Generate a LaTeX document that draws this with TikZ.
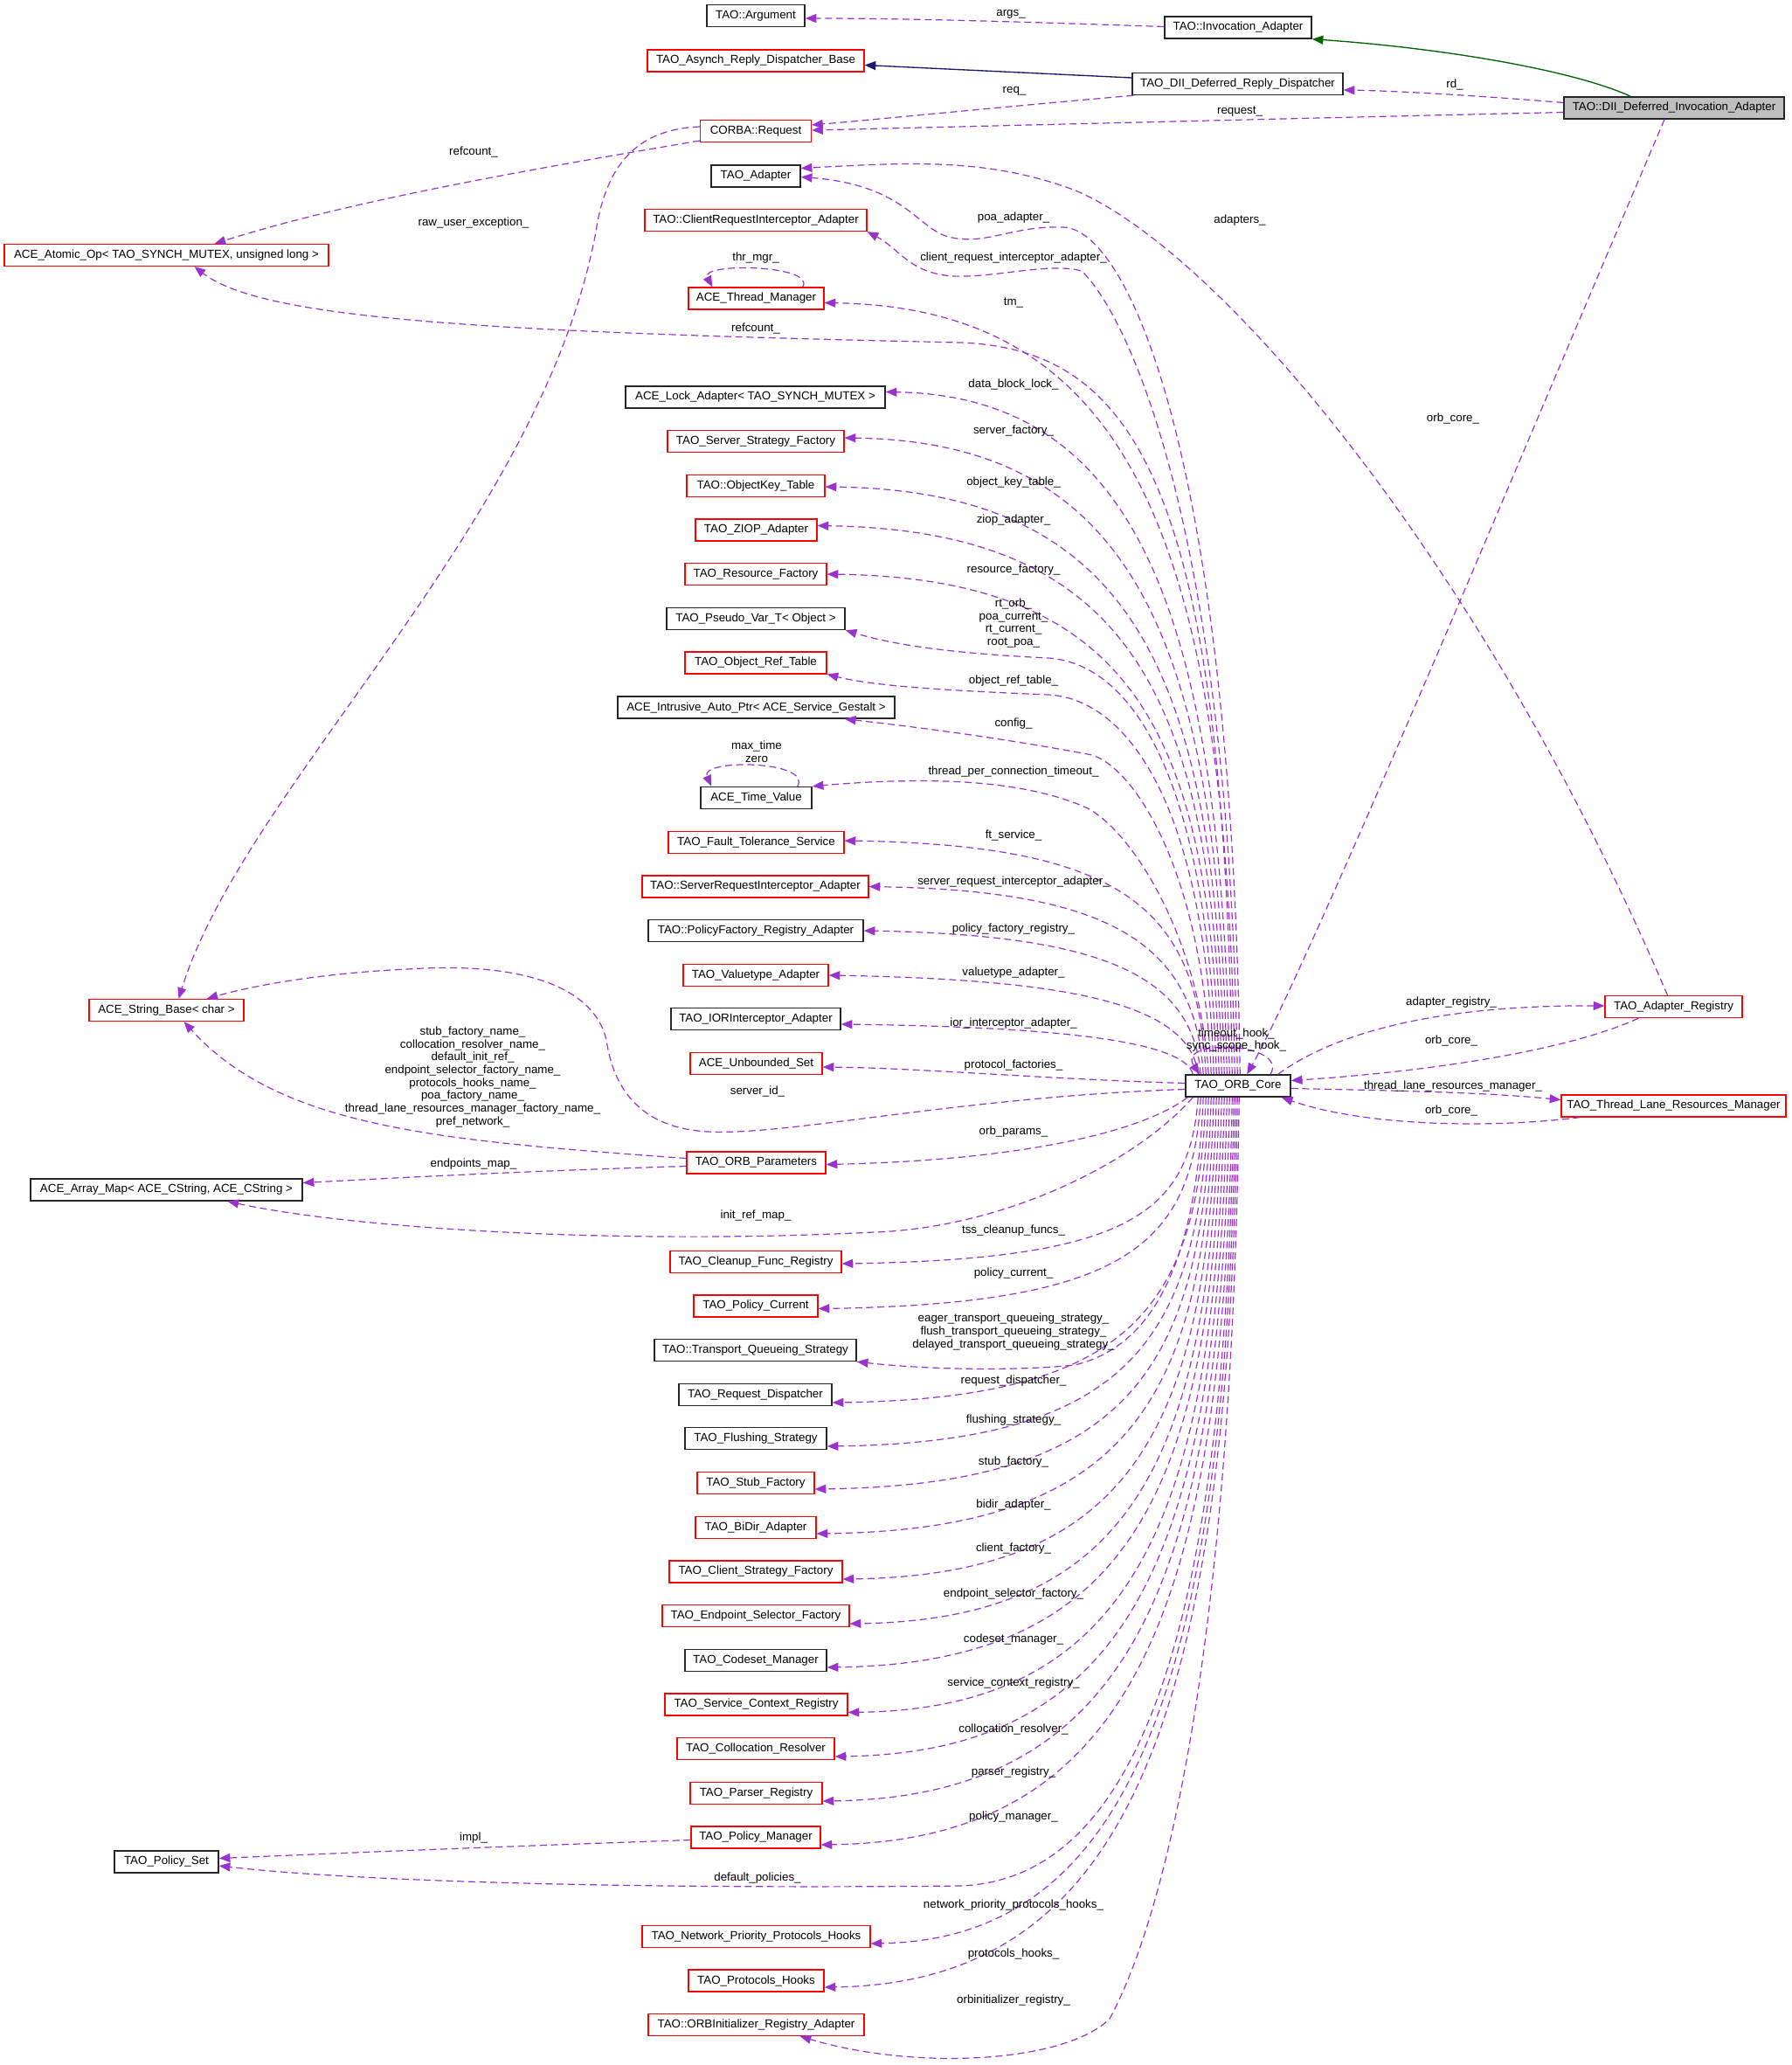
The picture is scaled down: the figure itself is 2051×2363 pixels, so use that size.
\documentclass[tikz,border=0pt]{standalone}
\usepackage{fontspec}
\setmainfont{Liberation Sans}
\usetikzlibrary{arrows.meta,calc}
\definecolor{dpurple}{HTML}{9A32CD}
\definecolor{dgreen}{HTML}{006400}
\definecolor{dnavy}{HTML}{191970}
\definecolor{dgray}{HTML}{BFBFBF}
\begin{document}
\begin{tikzpicture}[x=0.75pt,y=-0.75pt,
  cls/.style={draw, rectangle, minimum height=18.75pt, inner xsep=0pt, inner ysep=0pt, font=\fontsize{10}{11}\selectfont, line width=0.9pt},
  rb/.style={cls, draw=red},
  kb/.style={cls, draw=black!85, line width=1.1pt},
  bw/.style={minimum width=#1*0.75pt},
  lbl/.style={font=\fontsize{10}{11}\selectfont, inner sep=0pt, align=center},
  dep/.style={draw=dpurple, line width=0.9pt, dash pattern=on 6pt off 3.5pt, -{Triangle[length=9.5pt,width=7.5pt,fill=dpurple]}},
  inh/.style={draw=dgreen, line width=1pt, -{Triangle[length=9.5pt,width=7.5pt,fill=dgreen]}},
  pubinh/.style={draw=dnavy, line width=1pt, -{Triangle[length=9.5pt,width=7.5pt,fill=dnavy]}}
]
\fill[white] (0,0) rectangle (2051,2363);
\useasboundingbox (0,0) rectangle (2051,2363);

% ---------- nodes ----------
\node[kb,bw=112] (arg) at (865,18) {TAO::Argument};
\node[kb,bw=168] (inv) at (1417,31.5) {TAO::Invocation\_Adapter};
\node[rb,bw=248] (asy) at (865,69.5) {TAO\_Asynch\_Reply\_Dispatcher\_Base};
\node[kb,bw=241] (rdd) at (1416.5,96) {TAO\_DII\_Deferred\_Reply\_Dispatcher};
\node[kb,bw=252,fill=dgray] (dii) at (1916,123.5) {TAO::DII\_Deferred\_Invocation\_Adapter};
\node[rb,bw=127] (req) at (865,150) {CORBA::Request};
\node[kb,bw=102] (ada) at (865,201.5) {TAO\_Adapter};
\node[rb,bw=254] (cri) at (865,252) {TAO::ClientRequestInterceptor\_Adapter};
\node[rb,bw=371] (atom) at (190.5,292) {ACE\_Atomic\_Op< TAO\_SYNCH\_MUTEX, unsigned long >};
\node[rb,bw=155] (thr) at (865.5,341.5) {ACE\_Thread\_Manager};
\node[kb,bw=297] (lock) at (864.5,454.5) {ACE\_Lock\_Adapter< TAO\_SYNCH\_MUTEX >};
\node[rb,bw=202] (ssf) at (865,505) {TAO\_Server\_Strategy\_Factory};
\node[rb,bw=158] (okt) at (865,556) {TAO::ObjectKey\_Table};
\node[rb,bw=139] (ziop) at (865.5,606.5) {TAO\_ZIOP\_Adapter};
\node[rb,bw=162] (rf) at (865,657) {TAO\_Resource\_Factory};
\node[kb,bw=204] (pvt) at (865,708) {TAO\_Pseudo\_Var\_T< Object >};
\node[rb,bw=162] (ort) at (865,758.5) {TAO\_Object\_Ref\_Table};
\node[kb,bw=317] (iap) at (865.5,809.5) {ACE\_Intrusive\_Auto\_Ptr< ACE\_Service\_Gestalt >};
\node[kb,bw=127] (tv) at (865.5,913) {ACE\_Time\_Value};
\node[rb,bw=201] (fts) at (865.5,964) {TAO\_Fault\_Tolerance\_Service};
\node[rb,bw=259] (sri) at (864.5,1014.5) {TAO::ServerRequestInterceptor\_Adapter};
\node[kb,bw=246] (pfr) at (865,1065) {TAO::PolicyFactory\_Registry\_Adapter};
\node[rb,bw=166] (vta) at (865,1116) {TAO\_Valuetype\_Adapter};
\node[rb,bw=177] (str) at (190.5,1156) {ACE\_String\_Base< char >};
\node[kb,bw=194] (ior) at (865,1166) {TAO\_IORInterceptor\_Adapter};
\node[rb,bw=151] (uset) at (865.5,1217) {ACE\_Unbounded\_Set};
\node[kb,bw=120,line width=1.2pt] (orb) at (1417,1242.5) {TAO\_ORB\_Core};
\node[rb,bw=157] (areg) at (1915.5,1152) {TAO\_Adapter\_Registry};
\node[rb,bw=257] (tlrm) at (1915.5,1265.5) {TAO\_Thread\_Lane\_Resources\_Manager};
\node[rb,bw=159] (orbp) at (865.5,1330.5) {TAO\_ORB\_Parameters};
\node[kb,bw=311] (amap) at (190.5,1361.5) {ACE\_Array\_Map< ACE\_CString, ACE\_CString >};
\node[rb,bw=196] (cfr) at (865,1444) {TAO\_Cleanup\_Func\_Registry};
\node[rb,bw=142] (pcur) at (865,1494.5) {TAO\_Policy\_Current};
\node[kb,bw=231] (tqs) at (864.5,1545) {TAO::Transport\_Queueing\_Strategy};
\node[kb,bw=175] (rdisp) at (864.5,1596) {TAO\_Request\_Dispatcher};
\node[kb,bw=162] (fls) at (865,1646) {TAO\_Flushing\_Strategy};
\node[rb,bw=134] (stub) at (865,1697) {TAO\_Stub\_Factory};
\node[rb,bw=138] (bidir) at (865,1748) {TAO\_BiDir\_Adapter};
\node[rb,bw=198] (csf) at (865,1798.5) {TAO\_Client\_Strategy\_Factory};
\node[rb,bw=214] (esf) at (865,1849) {TAO\_Endpoint\_Selector\_Factory};
\node[kb,bw=162] (csm) at (865,1900) {TAO\_Codeset\_Manager};
\node[rb,bw=209] (scr) at (865.5,1950.5) {TAO\_Service\_Context\_Registry};
\node[rb,bw=180] (colr) at (865,2001) {TAO\_Collocation\_Resolver};
\node[rb,bw=151] (preg) at (865.5,2052) {TAO\_Parser\_Registry};
\node[rb,bw=148] (pman) at (865,2102.5) {TAO\_Policy\_Manager};
\node[kb,bw=119] (pset) at (190.5,2130.5) {TAO\_Policy\_Set};
\node[rb,bw=261] (nph) at (865.5,2216) {TAO\_Network\_Priority\_Protocols\_Hooks};
\node[rb,bw=155] (ph) at (865.5,2266.5) {TAO\_Protocols\_Hooks};
\node[rb,bw=247] (oira) at (865.5,2317) {TAO::ORBInitializer\_Registry\_Adapter};

% ---------- top-right edges ----------
\draw[inh] ($(dii.north west)+(77,0)$) .. controls (1800,80) and (1650,55) .. (inv.south east);
\draw[pubinh] ($(rdd.west)+(0,-7)$) -- ($(asy.east)+(0,5)$);
\draw[dep] ($(inv.west)+(0,-1)$) .. controls (1200,26) and (1050,21) .. ($(arg.east)+(0,3)$);
\draw[dep] ($(dii.west)+(0,-6)$) .. controls (1700,110) and (1600,104) .. ($(rdd.east)+(0,7)$);
\draw[dep] ($(rdd.south west)+(2,0)$) .. controls (1150,122) and (1000,137) .. ($(req.east)+(0,-7)$);
\draw[dep] ($(dii.west)+(0,5)$) .. controls (1500,135) and (1100,145) .. ($(req.east)+(0,-1)$);
\draw[dep] ($(req.west)+(0,11)$) .. controls (600,195) and (400,230) .. ($(atom.north)+(55,0)$);
\draw[dep] ($(req.west)+(0,-5)$) .. controls (720,148) and (692,200) .. (682,265) .. controls (620,600) and (280,900) .. ($(str.north)+(14,0)$);
\draw[dep] ($(areg.north)+(-7,0)$) .. controls (1700,650) and (1400,290) .. (1231,218) .. controls (1130,180) and (1040,186) .. ($(ada.east)+(0,-9)$);
\draw[dep] ($(dii.south)+(-11,0)$) .. controls (1750,500) and (1500,1100) .. ($(orb.north west)+(71,0)$);

% ---------- self loops ----------
\draw[dep] ($(orb.north west)+(98,0)$) .. controls (1475,1192) and (1345,1188) .. ($(orb.north west)+(17,0)$);
\draw[dep] ($(thr.north east)+(-25,0)$) .. controls (935,303) and (800,300) .. ($(thr.north west)+(28,0)$);
\draw[dep] ($(tv.north east)+(-17,0)$) .. controls (930,870) and (800,868) .. ($(tv.north west)+(13,0)$);

% ---------- ORB core right side ----------
\draw[dep] ($(orb.north east)+(-15,0)$) .. controls (1530,1180) and (1650,1150) .. ($(areg.west)+(0,-1)$);
\draw[dep] ($(areg.south west)+(39,0)$) .. controls (1800,1200) and (1650,1225) .. ($(orb.east)+(0,-6)$);
\draw[dep] ($(orb.east)+(0,3)$) .. controls (1600,1248) and (1700,1250) .. ($(tlrm.west)+(0,-7)$);
\draw[dep] ($(tlrm.south west)+(22,0)$) .. controls (1700,1292) and (1560,1288) .. ($(orb.south east)+(-11,0)$);

% ---------- ORB core to upper targets ----------
\draw[dep] ($(orb.north west)+(63,0)$) .. controls (1410,520) and (1290,262) .. (1217,260) .. controls (1160,258) and (1130,280) .. (1090,272) .. controls (1050,265) and (1040,212) .. ($(ada.east)+(0,1)$);
\draw[dep] ($(orb.north west)+(60,0)$) .. controls (1407,600) and (1290,360) .. (1238,310) .. controls (1200,300) and (1140,318) .. (1090,316) .. controls (1040,312) and (1030,285) .. (cri.south east);
\draw[dep] ($(orb.north west)+(57,0)$) .. controls (1404,612) and (1290,352) .. ($(thr.east)+(0,5)$);
\draw[dep] ($(orb.north west)+(54,0)$) .. controls (1401,560) and (1300,400) .. (1100,392) .. controls (550,380) and (300,365) .. ($(atom.south)+(32,0)$);
\draw[dep] ($(orb.north west)+(51,0)$) .. controls (1398,683) and (1290,453) .. ($(lock.east)+(0,-6)$);
\draw[dep] ($(orb.north west)+(48,0)$) .. controls (1395,720) and (1290,506) .. ($(ssf.east)+(0,-4)$);
\draw[dep] ($(orb.north west)+(45,0)$) .. controls (1392,759) and (1290,562) .. ($(okt.east)+(0,1)$);
\draw[dep] ($(orb.north west)+(42,0)$) .. controls (1389,790) and (1290,607) .. ($(ziop.east)+(0,-5)$);
\draw[dep] ($(orb.north west)+(39,0)$) .. controls (1386,829) and (1290,662) .. (rf.east);
\draw[dep] ($(orb.north west)+(36,0)$) .. controls (1383,900) and (1300,760) .. (1200,753) .. controls (1100,748) and (1030,740) .. (pvt.south east);
\draw[dep] ($(orb.north west)+(33,0)$) .. controls (1380,920) and (1290,800) .. (1200,795) .. controls (1080,790) and (1000,785) .. (ort.south east);
\draw[dep] ($(orb.north west)+(30,0)$) .. controls (1377,1000) and (1300,880) .. (1250,864) .. controls (1150,845) and (1050,832) .. ($(iap.south east)+(-58,0)$);
\draw[dep] ($(orb.north west)+(27,0)$) .. controls (1374,1080) and (1300,955) .. (1245,925) .. controls (1190,900) and (1100,885) .. (tv.north east);
\draw[dep] ($(orb.north west)+(24,0)$) .. controls (1371,1042) and (1290,967) .. ($(fts.east)+(0,-2)$);
\draw[dep] ($(orb.north west)+(21,0)$) .. controls (1368,1079) and (1270,1019) .. (sri.east);
\draw[dep] ($(orb.north west)+(18,0)$) .. controls (1365,1115) and (1260,1070) .. (pfr.east);
\draw[dep] ($(orb.north west)+(15,0)$) .. controls (1362,1150) and (1230,1121) .. (vta.east);
\draw[dep] ($(orb.north west)+(9,0)$) .. controls (1356,1190) and (1200,1175) .. ($(ior.east)+(0,6)$);
\draw[dep] ($(orb.west)+(0,-3)$) .. controls (1200,1235) and (1050,1222) .. ($(uset.east)+(0,4)$);
\draw[dep] ($(orb.west)+(0,4)$) .. controls (1100,1255) and (900,1300) .. (810,1295) .. controls (720,1290) and (700,1230) .. (694,1190) .. controls (680,1130) and (600,1100) .. (466,1109) .. controls (380,1113) and (300,1125) .. ($(str.north east)+(-43,0)$);

% ---------- ORB parameters ----------
\draw[dep] ($(orbp.west)+(0,-5)$) .. controls (500,1305) and (320,1290) .. ($(str.south)+(20,0)$);
\draw[dep] ($(orbp.west)+(0,4)$) .. controls (600,1340) and (450,1348) .. ($(amap.east)+(0,-8)$);
\draw[dep] ($(pman.west)+(0,3)$) .. controls (600,2112) and (400,2120) .. ($(pset.east)+(0,-4)$);

% ---------- ORB core to lower targets ----------
\draw[dep] ($(orb.south west)+(3,0)$) .. controls (1300,1300) and (1150,1328) .. ($(orbp.east)+(0,2)$);
\draw[dep] ($(orb.south west)+(9,0)$) .. controls (1300,1330) and (1150,1405) .. (1000,1410) .. controls (700,1425) and (400,1405) .. ($(amap.south)+(70,0)$);
\draw[dep] ($(orb.south west)+(15,0)$) .. controls (1362,1389) and (1290,1441) .. ($(cfr.east)+(0,2)$);
\draw[dep] ($(orb.south west)+(18,0)$) .. controls (1365,1424) and (1290,1492) .. ($(pcur.east)+(0,3)$);
\draw[dep] ($(orb.south west)+(21,0)$) .. controls (1368,1480) and (1300,1545) .. (1230,1562) .. controls (1150,1570) and (1050,1566) .. (tqs.south east);
\draw[dep] ($(orb.south west)+(24,0)$) .. controls (1371,1500) and (1290,1600) .. ($(rdisp.east)+(0,9)$);
\draw[dep] ($(orb.south west)+(27,0)$) .. controls (1374,1535) and (1290,1650) .. ($(fls.east)+(0,9)$);
\draw[dep] ($(orb.south west)+(30,0)$) .. controls (1377,1569) and (1290,1699) .. ($(stub.east)+(0,7)$);
\draw[dep] ($(orb.south west)+(33,0)$) .. controls (1380,1605) and (1290,1750) .. ($(bidir.east)+(0,7)$);
\draw[dep] ($(orb.south west)+(36,0)$) .. controls (1383,1641) and (1290,1802) .. ($(csf.east)+(0,8.5)$);
\draw[dep] ($(orb.south west)+(39,0)$) .. controls (1386,1677) and (1290,1853) .. ($(esf.east)+(0,9)$);
\draw[dep] ($(orb.south west)+(42,0)$) .. controls (1389,1712) and (1290,1903) .. ($(csm.east)+(0,8)$);
\draw[dep] ($(orb.south west)+(45,0)$) .. controls (1392,1748) and (1290,1955) .. ($(scr.east)+(0,9)$);
\draw[dep] ($(orb.south west)+(48,0)$) .. controls (1395,1783) and (1290,2005) .. ($(colr.east)+(0,9)$);
\draw[dep] ($(orb.south west)+(51,0)$) .. controls (1398,1819) and (1290,2056) .. ($(preg.east)+(0,9)$);
\draw[dep] ($(orb.south west)+(54,0)$) .. controls (1401,1854) and (1290,2106) .. ($(pman.east)+(0,8.5)$);
\draw[dep] ($(orb.south west)+(56,0)$) .. controls (1403,1900) and (1290,2150) .. (1100,2158) .. controls (700,2162) and (400,2152) .. ($(pset.east)+(0,4.5)$);
\draw[dep] ($(orb.south west)+(58,0)$) .. controls (1405,1933) and (1290,2219) .. ($(nph.east)+(0,8)$);
\draw[dep] ($(orb.south west)+(60,0)$) .. controls (1407,1968) and (1290,2269) .. ($(ph.east)+(0,7.5)$);
\draw[dep] ($(orb.south west)+(62,0)$) .. controls (1410,1900) and (1330,2200) .. (1270,2310) .. controls (1220,2360) and (1050,2370) .. ($(oira.south east)+(-74,0)$);

% ---------- labels ----------
\node[lbl] (l01) at (1157,16) {args\_};
\node[lbl] (l02) at (1665,97) {rd\_};
\node[lbl] (l03) at (1161,104) {req\_};
\node[lbl] (l04) at (1419,128) {request\_};
\node[lbl] (l05) at (542,174) {refcount\_};
\node[lbl] (l06) at (542,255) {raw\_user\_exception\_};
\node[lbl] (l07) at (1160,249) {poa\_adapter\_};
\node[lbl] (l08) at (1419,252) {adapters\_};
\node[lbl] (l09) at (1160,295) {client\_request\_interceptor\_adapter\_};
\node[lbl] (l10) at (865,295) {thr\_mgr\_};
\node[lbl] (l11) at (1160,347) {tm\_};
\node[lbl] (l12) at (865,376) {refcount\_};
\node[lbl] (l13) at (1160,440) {data\_block\_lock\_};
\node[lbl] (l14) at (1663,479) {orb\_core\_};
\node[lbl] (l15) at (1160,493) {server\_factory\_};
\node[lbl] (l16) at (1160,552) {object\_key\_table\_};
\node[lbl] (l17) at (1160,595) {ziop\_adapter\_};
\node[lbl] (l18) at (1160,652) {resource\_factory\_};
\node[lbl] (l19) at (1160,713) {rt\_orb\_\\poa\_current\_\\rt\_current\_\\root\_poa\_};
\node[lbl] (l20) at (1160,779) {object\_ref\_table\_};
\node[lbl] (l21) at (1160,828) {config\_};
\node[lbl] (l22) at (866,860.5) {max\_time\\zero};
\node[lbl] (l23) at (1160,883) {thread\_per\_connection\_timeout\_};
\node[lbl] (l24) at (1160,956) {ft\_service\_};
\node[lbl] (l25) at (1160,1009) {server\_request\_interceptor\_adapter\_};
\node[lbl] (l26) at (1160,1063) {policy\_factory\_registry\_};
\node[lbl] (l27) at (1160,1113) {valuetype\_adapter\_};
\node[lbl] (l28) at (1661,1147) {adapter\_registry\_};
\node[lbl] (l29) at (1160,1171) {ior\_interceptor\_adapter\_};
\node[lbl] (l30) at (541,1232.5) {stub\_factory\_name\_\\collocation\_resolver\_name\_\\default\_init\_ref\_\\endpoint\_selector\_factory\_name\_\\protocols\_hooks\_name\_\\poa\_factory\_name\_\\thread\_lane\_resources\_manager\_factory\_name\_\\pref\_network\_};
\node[lbl] (l31) at (1415,1190) {timeout\_hook\_\\sync\_scope\_hook\_};
\node[lbl] (l32) at (1661,1191) {orb\_core\_};
\node[lbl] (l33) at (1160,1219) {protocol\_factories\_};
\node[lbl] (l34) at (1663,1243) {thread\_lane\_resources\_manager\_};
\node[lbl] (l35) at (867,1249) {server\_id\_};
\node[lbl] (l36) at (1661,1271) {orb\_core\_};
\node[lbl] (l37) at (1160,1295) {orb\_params\_};
\node[lbl] (l38) at (542,1332) {endpoints\_map\_};
\node[lbl] (l39) at (865,1391) {init\_ref\_map\_};
\node[lbl] (l40) at (1160,1408) {tss\_cleanup\_funcs\_};
\node[lbl] (l41) at (1160,1457) {policy\_current\_};
\node[lbl] (l42) at (1160,1524) {eager\_transport\_queueing\_strategy\_\\flush\_transport\_queueing\_strategy\_\\delayed\_transport\_queueing\_strategy\_};
\node[lbl] (l43) at (1160,1580) {request\_dispatcher\_};
\node[lbl] (l44) at (1160,1625) {flushing\_strategy\_};
\node[lbl] (l45) at (1160,1673) {stub\_factory\_};
\node[lbl] (l46) at (1160,1722) {bidir\_adapter\_};
\node[lbl] (l47) at (1160,1772) {client\_factory\_};
\node[lbl] (l48) at (1160,1824) {endpoint\_selector\_factory\_};
\node[lbl] (l49) at (1160,1876) {codeset\_manager\_};
\node[lbl] (l50) at (1160,1926) {service\_context\_registry\_};
\node[lbl] (l51) at (1160,1979) {collocation\_resolver\_};
\node[lbl] (l52) at (1160,2028) {parser\_registry\_};
\node[lbl] (l53) at (1160,2079) {policy\_manager\_};
\node[lbl] (l54) at (542,2103) {impl\_};
\node[lbl] (l55) at (867,2149) {default\_policies\_};
\node[lbl] (l56) at (1160,2180) {network\_priority\_protocols\_hooks\_};
\node[lbl] (l57) at (1160,2236) {protocols\_hooks\_};
\node[lbl] (l58) at (1160,2289) {orbinitializer\_registry\_};
\end{tikzpicture}
\end{document}
